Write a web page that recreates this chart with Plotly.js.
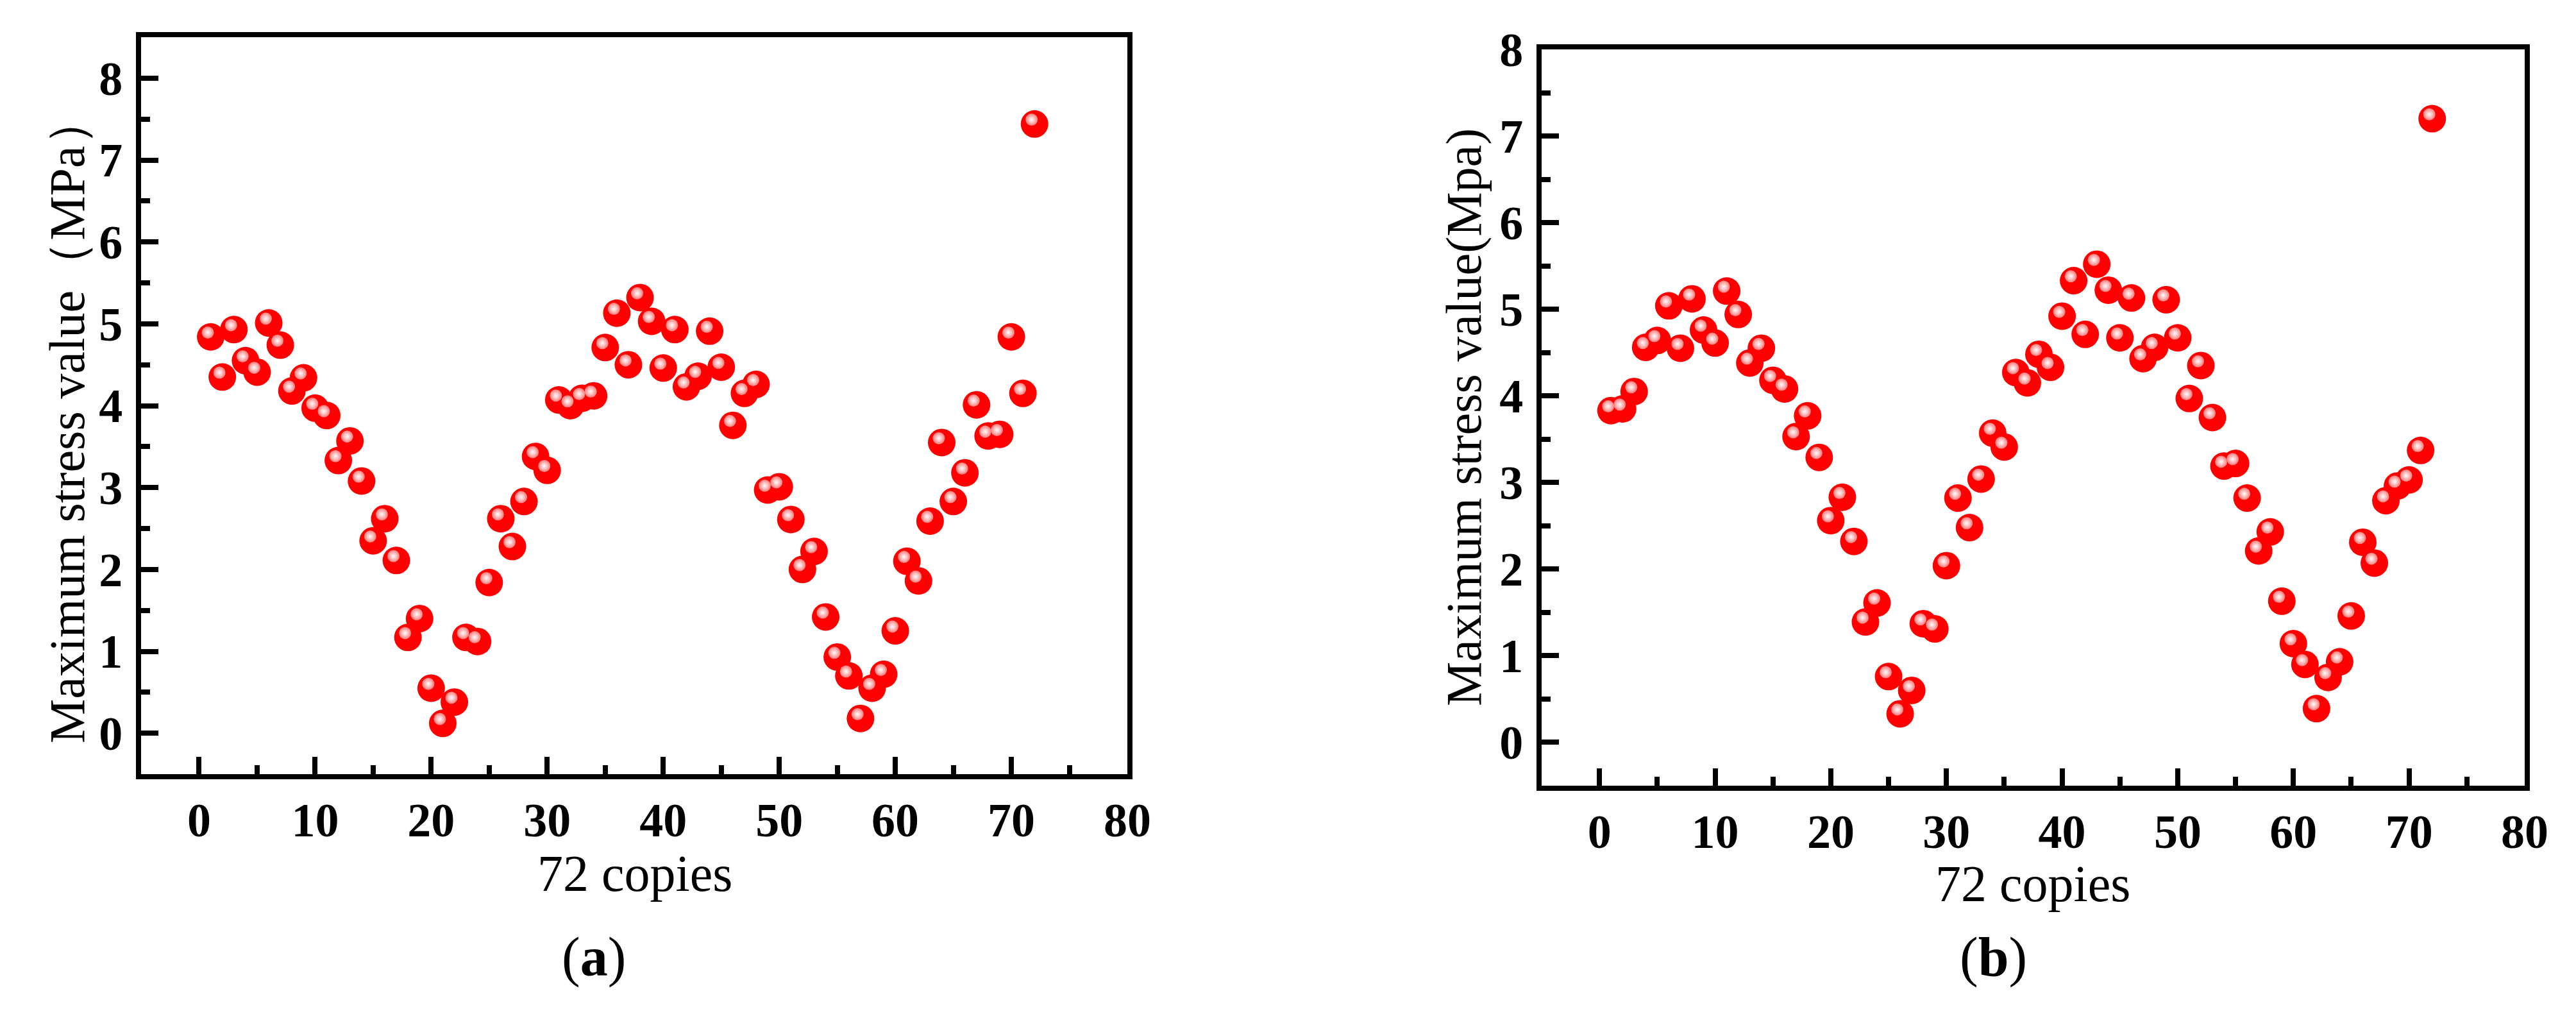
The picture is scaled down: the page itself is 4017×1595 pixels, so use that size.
<!DOCTYPE html>
<html>
<head>
<meta charset="utf-8">
<script src="https://cdn.plot.ly/plotly-3.0.1.min.js"></script>
<style>
  html, body { margin: 0; padding: 0; background: #fff; }
  #chart { width: 4017px; height: 1595px; }
</style>
</head>
<body>
<div id="chart"></div>
<script>
// copy index, 1..72
const copies = [1,2,3,4,5,6,7,8,9,10,11,12,13,14,15,16,17,18,19,20,21,22,23,24,
  25,26,27,28,29,30,31,32,33,34,35,36,37,38,39,40,41,42,43,44,45,46,47,48,
  49,50,51,52,53,54,55,56,57,58,59,60,61,62,63,64,65,66,67,68,69,70,71,72];

// (a) maximum stress value (MPa)
const stressA = [4.84,4.35,4.93,4.55,4.41,5.01,4.74,4.18,4.34,3.97,3.88,3.33,
  3.57,3.08,2.35,2.62,2.11,1.17,1.40,0.55,0.12,0.38,1.17,1.12,
  1.84,2.62,2.28,2.83,3.38,3.21,4.07,4.00,4.09,4.12,4.71,5.13,
  4.50,5.32,5.03,4.46,4.93,4.23,4.36,4.91,4.47,3.76,4.15,4.26,
  2.97,3.01,2.61,2.00,2.22,1.42,0.93,0.70,0.18,0.55,0.72,1.25,
  2.10,1.86,2.59,3.55,2.83,3.18,4.01,3.63,3.65,4.84,4.15,7.44];

// (b) maximum stress value (Mpa)
const stressB = [3.83,3.85,4.05,4.56,4.64,5.04,4.55,5.12,4.76,4.61,5.21,4.94,
  4.38,4.55,4.18,4.08,3.53,3.77,3.29,2.56,2.83,2.32,1.39,1.61,
  0.76,0.33,0.60,1.37,1.31,2.04,2.82,2.48,3.04,3.57,3.41,4.27,
  4.15,4.48,4.33,4.92,5.33,4.71,5.52,5.22,4.67,5.13,4.43,4.56,
  5.11,4.67,3.97,4.35,3.75,3.19,3.22,2.82,2.21,2.43,1.63,1.14,
  0.90,0.39,0.75,0.93,1.46,2.31,2.07,2.79,2.96,3.03,3.37,7.20];

const titleA = "Maximum stress value（MPa）";
const titleB = "Maximum stress value(Mpa)";
const xTitle = "72 copies";

const W = 4017, H = 1595;
const serif = "Liberation Serif, Times New Roman, serif";

function ball(x, y, xa, ya) {
  return {
    x: x, y: y, xaxis: xa, yaxis: ya,
    type: "scatter", mode: "markers", hoverinfo: "skip", showlegend: false,
    marker: { size: 43, color: "#ff0000", line: { width: 0 } }
  };
}
function shine(x, y, xa, ya) {
  return {
    x: x, y: y, xaxis: xa, yaxis: ya,
    type: "scatter", mode: "markers", hoverinfo: "skip", showlegend: false,
    marker: { size: 19, color: "#ff7a7a", line: { width: 0 },
              gradient: { type: "radial", color: "#ffffff" } }
  };
}

function mainAxis(dom, rng, dt, mdt, anchor, standoff) {
  return {
    domain: dom, range: rng, anchor: anchor, dtick: dt, tick0: 0,
    showgrid: false, zeroline: false,
    showline: true, linecolor: "#000", linewidth: 8, mirror: true,
    ticks: "inside", ticklen: 27, tickwidth: 8, tickcolor: "#000",
    minor: { dtick: mdt, ticks: "inside", ticklen: 14, tickwidth: 8, tickcolor: "#000" },
    ticklabelstandoff: standoff,
    tickfont: { family: serif, size: 74, color: "#000", weight: "bold" }
  };
}

// offset for the highlight spot, in axis units (a few pixels up-left)
const dxA = 0.25, dyA = 0.053;
const dxB = 0.25, dyB = 0.05;

const data = [
  ball(copies, stressA, "x", "y"),
  shine(copies, stressA, "x3", "y3"),
  ball(copies, stressB, "x2", "y2"),
  shine(copies, stressB, "x4", "y4")
];

const domXA = [220 / W, 1758 / W], domYA = [1 - 1207 / H, 1 - 58 / H];
const domXB = [2404 / W, 3937 / W], domYB = [1 - 1225 / H, 1 - 77 / H];

const layout = {
  width: W, height: H,
  margin: { l: 0, r: 0, t: 0, b: 0 },
  paper_bgcolor: "#fff", plot_bgcolor: "#fff",
  showlegend: false,
  xaxis: mainAxis(domXA, [-5, 80], 10, 5, "y", 0),
  yaxis: mainAxis(domYA, [-0.5, 8.5], 1, 0.5, "x", 6),
  xaxis2: mainAxis(domXB, [-5, 80], 10, 5, "y2", 0),
  yaxis2: mainAxis(domYB, [-0.5, 8], 1, 0.5, "x2", 6),
  xaxis3: { overlaying: "x", anchor: "y3", range: [-5 + dxA, 80 + dxA], visible: false },
  yaxis3: { overlaying: "y", anchor: "x3", range: [-0.5 - dyA, 8.5 - dyA], visible: false },
  xaxis4: { overlaying: "x2", anchor: "y4", range: [-5 + dxB, 80 + dxB], visible: false },
  yaxis4: { overlaying: "y2", anchor: "x4", range: [-0.5 - dyB, 8 - dyB], visible: false },
  annotations: [
    { text: titleA, xref: "paper", yref: "paper", x: 104 / W, y: 1 - 654 / H,
      textangle: -90, showarrow: false, xanchor: "center", yanchor: "middle",
      font: { family: serif, size: 78, color: "#000" } },
    { text: titleB, xref: "paper", yref: "paper", x: 2282 / W, y: 1 - 651 / H,
      textangle: -90, showarrow: false, xanchor: "center", yanchor: "middle",
      font: { family: serif, size: 78, color: "#000" } },
    { text: xTitle, xref: "paper", yref: "paper", x: 990 / W, y: 1 - 1362 / H,
      showarrow: false, xanchor: "center", yanchor: "middle",
      font: { family: serif, size: 80, color: "#000" } },
    { text: xTitle, xref: "paper", yref: "paper", x: 3170 / W, y: 1 - 1378 / H,
      showarrow: false, xanchor: "center", yanchor: "middle",
      font: { family: serif, size: 80, color: "#000" } },
    { text: "(<b>a</b>)", xref: "paper", yref: "paper", x: 926 / W, y: 1 - 1492 / H,
      showarrow: false, xanchor: "center", yanchor: "middle",
      font: { family: serif, size: 86, color: "#000" } },
    { text: "(<b>b</b>)", xref: "paper", yref: "paper", x: 3108 / W, y: 1 - 1492 / H,
      showarrow: false, xanchor: "center", yanchor: "middle",
      font: { family: serif, size: 86, color: "#000" } }
  ]
};

Plotly.newPlot("chart", data, layout, { staticPlot: true, displayModeBar: false });
</script>
</body>
</html>
